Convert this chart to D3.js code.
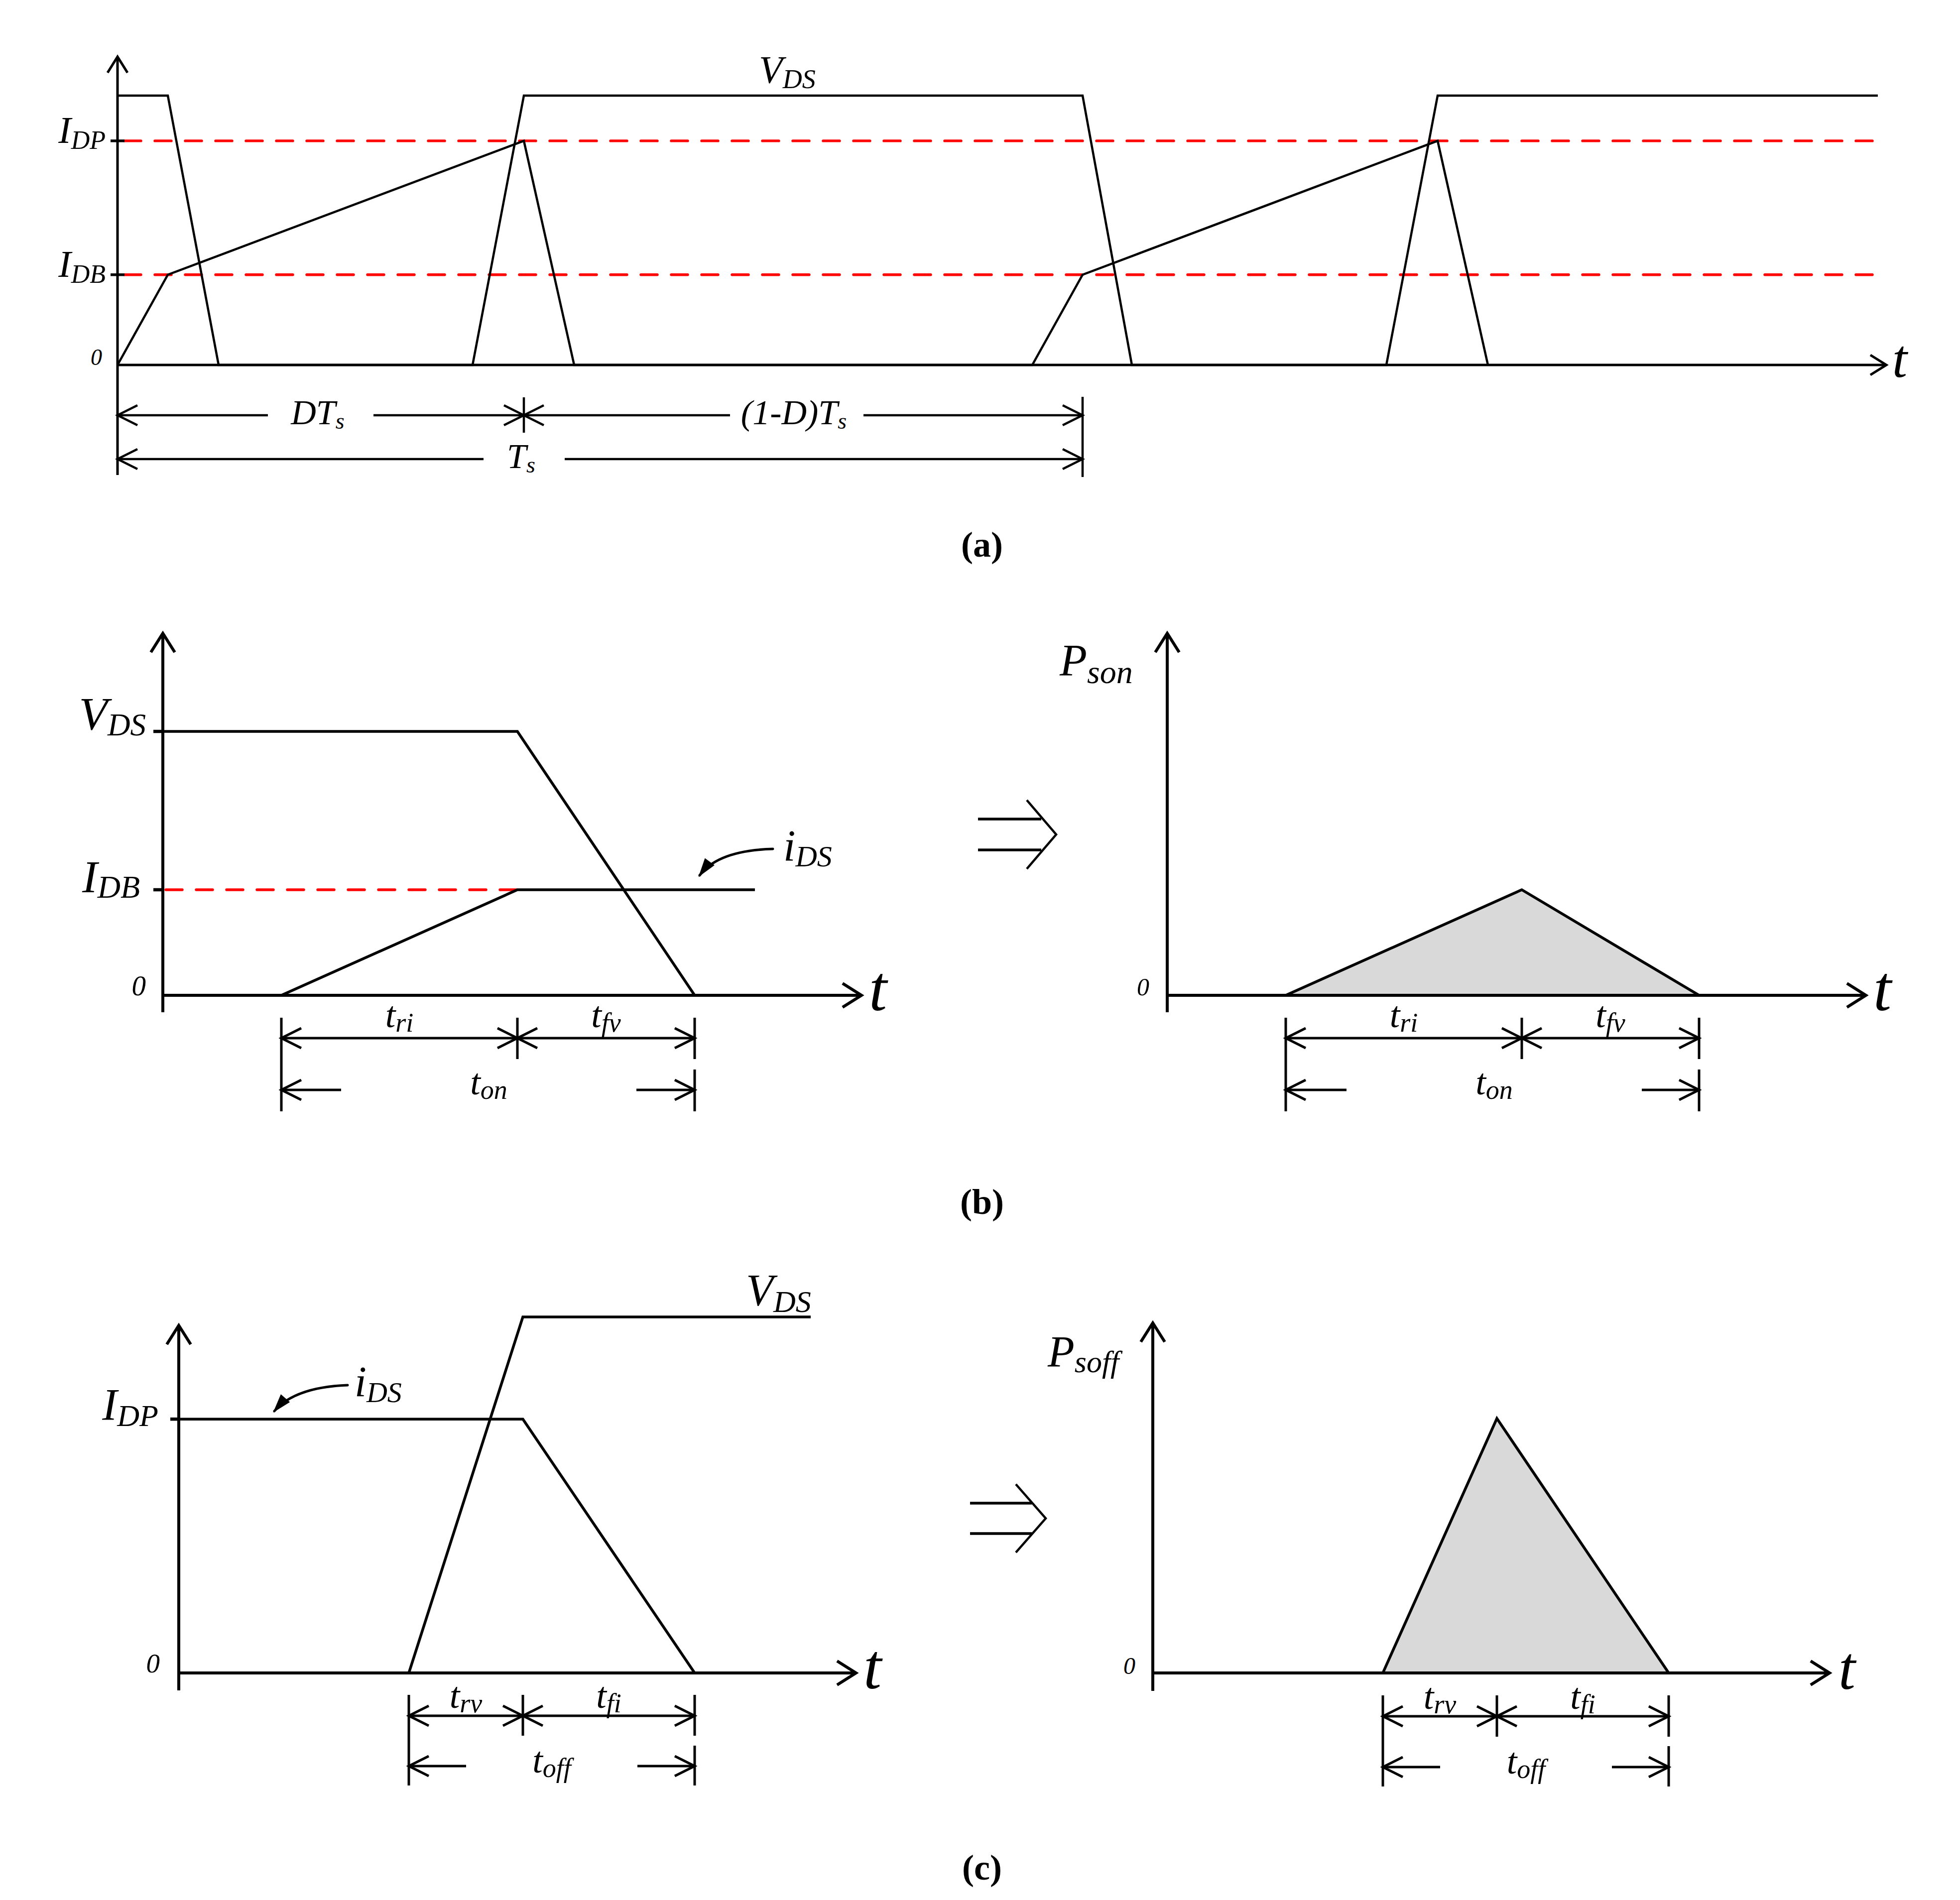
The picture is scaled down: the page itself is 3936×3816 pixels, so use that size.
<!DOCTYPE html>
<html>
<head>
<meta charset="utf-8">
<script src="https://cdn.jsdelivr.net/npm/d3@7"></script>
<style>
body { margin: 0; background: #fff; }
</style>
</head>
<body>
<svg id="chart"></svg>
<script>
// (a) switching waveforms: time in arbitrary units, levels normalised to V_DS = 1
const aVdsT = [0, 1.01, 2.03, 7.13, 8.16, 19.38, 20.37, 25.48, 26.51, 35.35];
const aVdsV = [1, 1, 0, 0, 1, 1, 0, 0, 1, 1];
const aIdsT = [0, 1.01, 8.16, 9.17, 18.37, 19.38, 26.51, 27.52];
const aIdsV = [0, 0.335, 0.832, 0, 0, 0.335, 0.832, 0];
const aLevels = [0.832, 0.335];
const aLevelLabels = [["I", "DP"], ["I", "DB"]];
const aSpans = [[0, 8.16], [8.16, 19.38], [0, 19.38]];
const aSpanLabels = [["DT", "s"], ["(1-D)T", "s"], ["T", "s"]];

// (b) turn-on transition and its loss
const bVdsT = [0, 7.12, 10.68];
const bVdsV = [1, 1, 0];
const bIdsT = [2.38, 7.12, 11.89];
const bIdsV = [0, 0.40, 0.40];
const bPT = [2.38, 7.12, 10.68];
const bPV = [0, 0.40, 0];
const bSpanLabels = [["t", "ri"], ["t", "fv"], ["t", "on"]];

// (c) turn-off transition and its loss
const cVdsT = [0, 4.62, 6.91, 12.69];
const cVdsV = [0, 0, 1, 1];
const cIdsT = [0, 6.91, 10.36];
const cIdsV = [0.713, 0.713, 0];
const cPT = [4.62, 6.91, 10.36];
const cPV = [0, 0.715, 0];
const cSpanLabels = [["t", "rv"], ["t", "fi"], ["t", "off"]];

const SERIF = "'Liberation Serif', 'Times New Roman', serif";

const svg = d3.select("#chart").attr("width", 3936).attr("height", 3816);
svg.append("rect").attr("width", 3936).attr("height", 3816).attr("fill", "#fff");

function label(g, x, y, main, sub, size, subSize, subDy, anchor) {
    const t = g.append("text")
        .attr("x", x).attr("y", y)
        .attr("font-family", SERIF)
        .attr("font-style", "italic")
        .attr("font-size", size)
        .attr("text-anchor", anchor || "start");
    t.append("tspan").text(main);
    if (sub) t.append("tspan").attr("font-size", subSize).attr("dy", subDy).text(sub);
}

function poly(g, pts, sw) {
    g.append("path")
        .attr("d", d3.line()(pts))
        .attr("fill", "none")
        .attr("stroke", "#000")
        .attr("stroke-width", sw)
        .attr("stroke-linejoin", "miter");
}

function axes(g, ox, oy, tipX, topY, botY, L, W, sw) {
    poly(g, [[ox, botY], [ox, topY]], sw);
    poly(g, [[ox, oy], [tipX, oy]], sw);
    poly(g, [[ox - W, topY + L], [ox, topY], [ox + W, topY + L]], sw);
    poly(g, [[tipX - L, oy - W], [tipX, oy], [tipX - L, oy + W]], sw);
}

function dimRow(g, x0, x1, y, gap, sw) {
    if (gap) {
        poly(g, [[x0, y], [gap[0], y]], sw);
        poly(g, [[gap[1], y], [x1, y]], sw);
    } else {
        poly(g, [[x0, y], [x1, y]], sw);
    }
    poly(g, [[x0 + 40, y - 20], [x0, y], [x0 + 40, y + 20]], sw);
    poly(g, [[x1 - 40, y - 20], [x1, y], [x1 - 40, y + 20]], sw);
}

function wave(g, x, y, ts, vs, sw) {
    const line = d3.line().x(d => x(d[0])).y(d => y(d[1]));
    g.append("path")
        .datum(d3.zip(ts, vs))
        .attr("d", line)
        .attr("fill", "none")
        .attr("stroke", "#000")
        .attr("stroke-width", sw)
        .attr("stroke-linejoin", "miter");
}

function area(g, x, y, ts, vs, sw) {
    const line = d3.line().x(d => x(d[0])).y(d => y(d[1]));
    g.append("path")
        .datum(d3.zip(ts, vs))
        .attr("d", line(d3.zip(ts, vs)) + "Z")
        .attr("fill", "#d9d9d9")
        .attr("stroke", "#000")
        .attr("stroke-width", sw)
        .attr("stroke-linejoin", "miter");
}

function dashed(g, x0, x1, y) {
    g.append("line")
        .attr("x1", x0).attr("x2", x1).attr("y1", y).attr("y2", y)
        .attr("stroke", "#ff0000")
        .attr("stroke-width", 5.4)
        .attr("stroke-dasharray", "33 28")
        .attr("stroke-linecap", "round");
}

function curvedArrow(g, s, c, t, sw) {
    const p = d3.path();
    p.moveTo(s[0], s[1]);
    p.quadraticCurveTo(c[0], c[1], t[0], t[1]);
    g.append("path").attr("d", p.toString()).attr("fill", "none")
        .attr("stroke", "#000").attr("stroke-width", sw).attr("stroke-linecap", "round");
    const dx = t[0] - c[0], dy = t[1] - c[1];
    const len = Math.hypot(dx, dy), ux = dx / len, uy = dy / len;
    const L = 34, W = 12;
    const bx = t[0] - ux * L, by = t[1] - uy * L;
    g.append("path")
        .attr("d", d3.line()([[t[0] + ux * 4, t[1] + uy * 4], [bx - uy * W, by + ux * W], [bx + uy * W, by - ux * W]]) + "Z")
        .attr("fill", "#000");
}

function implies(g, x0, x1, y1, y2, cx, tipX, sw) {
    poly(g, [[x0, y1], [x1, y1]], sw);
    poly(g, [[x0, y2], [x1, y2]], sw);
    const mid = (y1 + y2) / 2;
    poly(g, [[cx, y1 - 38], [tipX, mid], [cx, y2 + 38]], sw - 1);
}

function figLabel(txt, y) {
    svg.append("text")
        .attr("x", 1972).attr("y", y)
        .attr("text-anchor", "middle")
        .attr("font-family", SERIF)
        .attr("font-weight", "bold")
        .attr("font-size", 72)
        .text(txt);
}

// ---------- (a) ----------
const xA = d3.scaleLinear().domain([0, 35.52]).range([236, 3788]);
const yA = d3.scaleLinear().domain([0, 1]).range([733, 192]);
const gA = svg.append("g");

aLevels.forEach(v => dashed(gA, 250, xA(35.27), yA(v)));
axes(gA, xA(0), yA(0), xA(35.52), 114, 954, 32, 20, 5);
aLevels.forEach((v, i) => {
    poly(gA, [[222, yA(v)], [250, yA(v)]], 5.4);
    label(gA, 212, yA(v) + 4, aLevelLabels[i][0], aLevelLabels[i][1], 76, 52, 12, "end");
});
label(gA, 205, yA(0), "0", null, 46, 0, 0, "end");
wave(gA, xA, yA, aVdsT, aVdsV, 4.5);
wave(gA, xA, yA, aIdsT, aIdsV, 4.5);
label(gA, xA(12.88), 166, "V", "DS", 78, 54, 11);
label(gA, 3800, 757, "t", null, 108);

const aRows = [834, 834, 922];
const aGaps = [[538, 750], [1466, 1734], [971, 1134]];
aSpans.forEach((s, i) => {
    dimRow(gA, xA(s[0]), xA(s[1]), aRows[i], aGaps[i], 4.5);
    const cxl = (aGaps[i][0] + aGaps[i][1]) / 2;
    label(gA, cxl - 6, aRows[i] + 18, aSpanLabels[i][0], aSpanLabels[i][1], 70, 46, 9, "middle");
});
poly(gA, [[xA(aSpans[0][1]), 798], [xA(aSpans[0][1]), 869]], 4.5);
poly(gA, [[xA(aSpans[1][1]), 797], [xA(aSpans[1][1]), 958]], 4.5);
figLabel("(a)", 1118);

// ---------- (b) left ----------
const xB = d3.scaleLinear().domain([0, 14.03]).range([327, 1730]);
const yB = d3.scaleLinear().domain([0, 1]).range([1999, 1469]);
const gB = svg.append("g");

dashed(gB, 333, xB(bIdsT[1]), yB(bIdsV[1]));
axes(gB, xB(0), yB(0), xB(14.03), 1272, 2033, 38, 24, 6);
[1, bIdsV[1]].forEach(v => poly(gB, [[308, yB(v)], [327, yB(v)]], 6.5));
wave(gB, xB, yB, bVdsT, bVdsV, 5.5);
wave(gB, xB, yB, bIdsT, bIdsV, 5.5);
label(gB, 293, 1465, "V", "DS", 94, 63, 12, "end");
label(gB, 281, 1792, "I", "DB", 92, 64, 11, "end");
label(gB, 293, 1999, "0", null, 57, 0, 0, "end");
label(gB, 1573, 1728, "i", "DS", 88, 60, 12);
curvedArrow(gB, [1552, 1705], [1442, 1708], [1405, 1758], 5);
label(gB, 1745, 2029, "t", null, 130);

function onDims(g, x, spans, labels, rows, gap, lblY) {
    spans.forEach((s, i) => {
        const gp = i === 2 ? gap : null;
        dimRow(g, x(s[0]), x(s[1]), rows[i], gp, 5);
        const cxl = i === 2 ? (gap[0] + gap[1]) / 2 : (x(s[0]) + x(s[1])) / 2;
        label(g, cxl, lblY[i], labels[i][0], labels[i][1], 74, 54, 9, "middle");
    });
}

const bSpans = [[bPT[0], bPT[1]], [bPT[1], bPT[2]], [bPT[0], bPT[2]]];
onDims(gB, xB, bSpans, bSpanLabels, [2085, 2085, 2189], [685, 1278], [2063, 2063, 2198]);
poly(gB, [[xB(bPT[0]), 2044], [xB(bPT[0]), 2232]], 5);
poly(gB, [[xB(bPT[1]), 2044], [xB(bPT[1]), 2127]], 5);
poly(gB, [[xB(bPT[2]), 2044], [xB(bPT[2]), 2127]], 5);
poly(gB, [[xB(bPT[2]), 2148], [xB(bPT[2]), 2232]], 5);

// ---------- (b) right ----------
const xBR = d3.scaleLinear().domain([0, 14.03]).range([2344, 3747]);
const gBR = svg.append("g");
area(gBR, xBR, yB, bPT, bPV, 5.5);
axes(gBR, xBR(0), yB(0), xBR(14.03), 1272, 2033, 38, 24, 6);
label(gBR, 2128, 1357, "P", "son", 90, 66, 15);
label(gBR, 2308, 1999, "0", null, 50, 0, 0, "end");
label(gBR, 3762, 2029, "t", null, 130);
implies(gBR, 1964, 2091, 1645, 1707, 2062, 2121, 5.5);
onDims(gBR, xBR, bSpans, bSpanLabels, [2085, 2085, 2189], [2704, 3297], [2063, 2063, 2198]);
poly(gBR, [[xBR(bPT[0]), 2044], [xBR(bPT[0]), 2232]], 5);
poly(gBR, [[xBR(bPT[1]), 2044], [xBR(bPT[1]), 2127]], 5);
poly(gBR, [[xBR(bPT[2]), 2044], [xBR(bPT[2]), 2127]], 5);
poly(gBR, [[xBR(bPT[2]), 2148], [xBR(bPT[2]), 2232]], 5);
figLabel("(b)", 2438);

// ---------- (c) left ----------
const xC = d3.scaleLinear().domain([0, 13.6]).range([359, 1719]);
const yC = d3.scaleLinear().domain([0, 1]).range([3360, 2645]);
const gC = svg.append("g");
axes(gC, xC(0), yC(0), xC(13.6), 2662, 3395, 38, 24, 6);
poly(gC, [[342, yC(cIdsV[0])], [359, yC(cIdsV[0])]], 6.5);
wave(gC, xC, yC, cVdsT, cVdsV, 5.5);
wave(gC, xC, yC, cIdsT, cIdsV, 5.5);
label(gC, 1498, 2622, "V", "DS", 90, 62, 13);
label(gC, 318, 2852, "I", "DP", 90, 62, 12, "end");
label(gC, 712, 2804, "i", "DS", 86, 58, 12);
curvedArrow(gC, [698, 2782], [592, 2786], [551, 2834], 5);
label(gC, 321, 3359, "0", null, 55, 0, 0, "end");
label(gC, 1734, 3391, "t", null, 130);

const cSpans = [[cPT[0], cPT[1]], [cPT[1], cPT[2]], [cPT[0], cPT[2]]];
onDims(gC, xC, cSpans, cSpanLabels, [3446, 3446, 3547], [936, 1280], [3430, 3430, 3560]);
poly(gC, [[xC(cPT[0]), 3404], [xC(cPT[0]), 3586]], 5);
poly(gC, [[xC(cPT[1]), 3404], [xC(cPT[1]), 3486]], 5);
poly(gC, [[xC(cPT[2]), 3404], [xC(cPT[2]), 3486]], 5);
poly(gC, [[xC(cPT[2]), 3506], [xC(cPT[2]), 3586]], 5);

// ---------- (c) right ----------
const xCR = d3.scaleLinear().domain([0, 13.59]).range([2315, 3674]);
const gCR = svg.append("g");
area(gCR, xCR, yC, cPT, cPV, 5.5);
axes(gCR, xCR(0), yC(0), xCR(13.59), 2657, 3396, 38, 24, 6);
label(gCR, 2104, 2744, "P", "soff", 88, 62, 12);
label(gCR, 2280, 3362, "0", null, 48, 0, 0, "end");
label(gCR, 3692, 3392, "t", null, 122);
implies(gCR, 1948, 2072, 3019, 3080, 2040, 2100, 5.5);
onDims(gCR, xCR, cSpans, cSpanLabels, [3447, 3447, 3549], [2892, 3237], [3432, 3432, 3562]);
poly(gCR, [[xCR(cPT[0]), 3405], [xCR(cPT[0]), 3588]], 5);
poly(gCR, [[xCR(cPT[1]), 3405], [xCR(cPT[1]), 3488]], 5);
poly(gCR, [[xCR(cPT[2]), 3405], [xCR(cPT[2]), 3488]], 5);
poly(gCR, [[xCR(cPT[2]), 3507], [xCR(cPT[2]), 3588]], 5);
figLabel("(c)", 3775);
</script>
</body>
</html>
